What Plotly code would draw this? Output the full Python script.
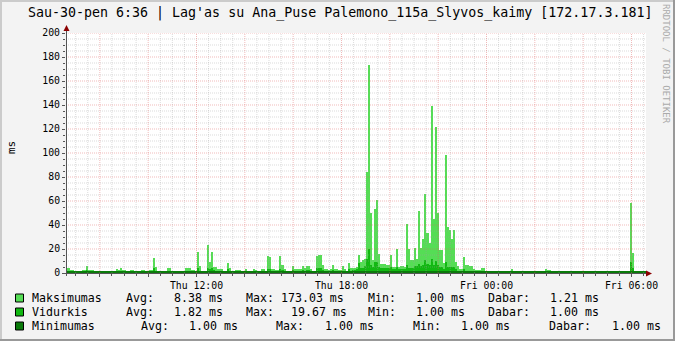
import pandas as pd
import plotly.graph_objects as go

# ---------------- data ----------------
TITLE = "Sau-30-pen 6:36 | Lag'as su Ana_Puse Palemono_115a_Slyvos_kaimy [172.17.3.181]"
START = "2015-01-29 06:36:00"   # Thu 06:36, 24 h window ending Fri 06:36
STEP_MIN = 5

# Maksimumas (ms), one row per hour (12 x 5 min)
MAX_MS = [
    4.4, 4.4, 2.5, 2.5, 2.0, 1.7, 1.7, 1.7, 2.5, 2.5, 5.8, 2.5,
    2.5, 2.5, 1.7, 1.7, 1.7, 1.5, 1.5, 1.5, 1.5, 1.5, 1.5, 1.5,
    1.5, 3.3, 2.5, 4.4, 2.5, 2.5, 1.7, 1.7, 2.5, 2.5, 1.7, 1.7,
    1.7, 2.5, 2.5, 1.5, 1.5, 2.5, 2.5, 12.5, 4.7, 2.0, 2.0, 1.5,
    1.5, 2.0, 3.9, 3.9, 1.7, 1.7, 1.5, 1.5, 1.7, 1.5, 1.7, 3.9,
    3.9, 3.9, 2.5, 2.5, 2.0, 17.5, 6.0, 1.5, 1.5, 1.5, 23.3, 9.0,
    17.5, 5.3, 5.3, 3.3, 3.3, 3.3, 2.0, 2.0, 8.3, 3.9, 1.7, 1.7,
    2.5, 2.5, 2.5, 2.0, 2.0, 3.3, 1.5, 1.5, 1.5, 3.3, 2.5, 1.5,
    1.5, 3.0, 3.0, 2.0, 14.2, 13.0, 3.5, 3.5, 2.5, 2.5, 14.4, 6.6,
    3.3, 2.0, 2.0, 2.0, 6.0, 3.5, 3.0, 3.0, 3.0, 6.0, 4.2, 5.8,
    5.8, 3.0, 1.7, 1.7, 14.0, 15.0, 14.7, 6.5, 3.0, 3.0, 2.5, 3.0,
    6.4, 3.0, 3.0, 2.5, 2.5, 5.5, 3.0, 1.5, 8.3, 4.2, 4.0, 4.5,
    5.0, 15.0, 9.5, 11.0, 12.0, 84.0, 173.03, 50.0, 11.0, 53.0, 61.0, 16.0,
    7.5, 7.5, 7.5, 7.0, 7.0, 15.0, 5.0, 5.0, 20.0, 5.0, 6.0, 6.0,
    5.0, 41.0, 20.0, 11.0, 11.0, 21.0, 12.0, 52.0, 21.0, 28.0, 66.0, 33.0,
    25.0, 139.0, 45.0, 122.0, 50.0, 19.0, 19.0, 8.0, 98.0, 38.0, 36.0, 28.0,
    36.0, 9.5, 6.0, 3.5, 3.5, 13.6, 7.0, 7.0, 5.5, 5.5, 3.5, 2.3,
    2.3, 2.3, 4.5, 4.0, 2.0, 2.0, 1.5, 1.2, 2.0, 1.2, 1.2, 2.0,
    1.2, 1.2, 2.0, 1.2, 1.2, 3.0, 2.0, 1.2, 1.2, 1.2, 2.0, 2.0,
    2.0, 2.0, 2.0, 1.2, 1.2, 2.0, 2.0, 1.2, 1.2, 1.2, 3.5, 2.5,
    2.5, 1.2, 1.2, 1.2, 1.2, 1.2, 1.2, 1.2, 2.0, 1.2, 1.2, 1.2,
    2.0, 2.0, 1.2, 1.2, 1.2, 2.0, 2.0, 2.0, 2.0, 1.2, 1.2, 2.0,
    2.0, 1.2, 2.0, 2.0, 1.2, 2.0, 2.0, 2.0, 1.2, 1.2, 1.2, 1.2,
    2.0, 2.0, 1.2, 1.2, 58.0, 17.0, 1.2, 1.2, 1.2, 2.0, 1.5, 1.2,
]

# Vidurkis (ms)
AVG_MS = [
    2.0, 2.0, 1.5, 1.4, 1.4, 1.3, 1.3, 1.3, 1.5, 1.5, 2.5, 1.4,
    1.4, 1.4, 1.3, 1.3, 1.3, 1.2, 1.2, 1.2, 1.2, 1.2, 1.2, 1.2,
    1.2, 1.6, 1.4, 2.0, 1.4, 1.4, 1.3, 1.3, 1.4, 1.4, 1.3, 1.3,
    1.3, 1.4, 1.4, 1.2, 1.2, 1.4, 1.4, 4.0, 2.0, 1.4, 1.4, 1.2,
    1.2, 1.4, 1.8, 1.8, 1.3, 1.3, 1.2, 1.2, 1.3, 1.2, 1.3, 1.8,
    1.8, 1.8, 1.4, 1.4, 1.4, 4.0, 2.0, 1.3, 1.3, 1.3, 4.0, 3.0,
    4.0, 2.5, 2.0, 1.6, 1.6, 1.6, 1.4, 1.4, 3.0, 1.8, 1.3, 1.3,
    1.4, 1.4, 1.4, 1.4, 1.4, 1.6, 1.2, 1.2, 1.2, 1.6, 1.4, 1.2,
    1.2, 1.5, 1.5, 1.4, 3.5, 3.0, 1.6, 1.6, 1.4, 1.4, 3.5, 2.5,
    1.6, 1.4, 1.4, 1.4, 2.5, 1.6, 1.5, 1.5, 1.5, 2.5, 2.0, 2.5,
    2.5, 1.5, 1.3, 1.3, 4.0, 4.0, 4.0, 2.5, 1.5, 1.5, 1.4, 1.5,
    2.5, 1.5, 1.5, 1.4, 1.4, 2.0, 1.5, 1.2, 3.0, 2.0, 2.5, 2.5,
    3.0, 8.0, 4.0, 4.5, 6.0, 12.0, 19.67, 7.0, 5.0, 9.0, 9.5, 5.0,
    4.0, 4.0, 4.0, 4.0, 4.0, 5.0, 3.0, 3.0, 5.0, 3.0, 3.0, 3.0,
    3.0, 7.0, 4.0, 4.0, 4.0, 6.0, 6.0, 7.5, 6.0, 7.0, 11.0, 7.5,
    7.0, 12.0, 7.0, 10.0, 7.0, 5.0, 5.0, 3.0, 9.0, 5.0, 5.0, 5.0,
    5.0, 3.0, 2.0, 2.0, 2.0, 3.0, 2.0, 2.0, 2.0, 2.0, 1.6, 1.3,
    1.3, 1.3, 1.8, 1.6, 1.3, 1.3, 1.2, 1.1, 1.3, 1.1, 1.1, 1.3,
    1.1, 1.1, 1.3, 1.1, 1.1, 1.5, 1.3, 1.1, 1.1, 1.1, 1.3, 1.3,
    1.3, 1.3, 1.3, 1.1, 1.1, 1.3, 1.3, 1.1, 1.1, 1.1, 1.6, 1.4,
    1.4, 1.1, 1.1, 1.1, 1.1, 1.1, 1.1, 1.1, 1.3, 1.1, 1.1, 1.1,
    1.3, 1.3, 1.1, 1.1, 1.1, 1.3, 1.3, 1.3, 1.3, 1.1, 1.1, 1.3,
    1.3, 1.1, 1.3, 1.3, 1.1, 1.3, 1.3, 1.3, 1.1, 1.1, 1.1, 1.1,
    1.3, 1.3, 1.1, 1.1, 9.0, 4.0, 1.1, 1.1, 1.1, 1.3, 1.2, 1.1,
]

# Minimumas (ms) - flat 1.00 ms across the day
MIN_MS = [
    1, 1, 1, 1, 1, 1, 1, 1, 1, 1, 1, 1,
    1, 1, 1, 1, 1, 1, 1, 1, 1, 1, 1, 1,
    1, 1, 1, 1, 1, 1, 1, 1, 1, 1, 1, 1,
    1, 1, 1, 1, 1, 1, 1, 1, 1, 1, 1, 1,
    1, 1, 1, 1, 1, 1, 1, 1, 1, 1, 1, 1,
    1, 1, 1, 1, 1, 1, 1, 1, 1, 1, 1, 1,
    1, 1, 1, 1, 1, 1, 1, 1, 1, 1, 1, 1,
    1, 1, 1, 1, 1, 1, 1, 1, 1, 1, 1, 1,
    1, 1, 1, 1, 1, 1, 1, 1, 1, 1, 1, 1,
    1, 1, 1, 1, 1, 1, 1, 1, 1, 1, 1, 1,
    1, 1, 1, 1, 1, 1, 1, 1, 1, 1, 1, 1,
    1, 1, 1, 1, 1, 1, 1, 1, 1, 1, 1, 1,
    1, 1, 1, 1, 1, 1, 1, 1, 1, 1, 1, 1,
    1, 1, 1, 1, 1, 1, 1, 1, 1, 1, 1, 1,
    1, 1, 1, 1, 1, 1, 1, 1, 1, 1, 1, 1,
    1, 1, 1, 1, 1, 1, 1, 1, 1, 1, 1, 1,
    1, 1, 1, 1, 1, 1, 1, 1, 1, 1, 1, 1,
    1, 1, 1, 1, 1, 1, 1, 1, 1, 1, 1, 1,
    1, 1, 1, 1, 1, 1, 1, 1, 1, 1, 1, 1,
    1, 1, 1, 1, 1, 1, 1, 1, 1, 1, 1, 1,
    1, 1, 1, 1, 1, 1, 1, 1, 1, 1, 1, 1,
    1, 1, 1, 1, 1, 1, 1, 1, 1, 1, 1, 1,
    1, 1, 1, 1, 1, 1, 1, 1, 1, 1, 1, 1,
    1, 1, 1, 1, 1, 1, 1, 1, 1, 1, 1, 1,
]

SERIES_NAMES = ["Maksimumas", "Vidurkis", "Minimumas"]
SERIES_COLORS = ["#55DD55", "#11B811", "#0A7A0A"]

# legend statistics (Avg, Max, Min, Dabar)
LEGEND_STATS = [
    ["8.38 ms", "173.03 ms", "1.00 ms", "1.21 ms"],
    ["1.82 ms", "19.67 ms", "1.00 ms", "1.00 ms"],
    ["1.00 ms", "1.00 ms", "1.00 ms", "1.00 ms"],
]

X_LABELS = {
    "2015-01-29 12:00": "Thu 12:00",
    "2015-01-29 18:00": "Thu 18:00",
    "2015-01-30 00:00": "Fri 00:00",
    "2015-01-30 06:00": "Fri 06:00",
}
Y_TICKS = [0, 20, 40, 60, 80, 100, 120, 140, 160, 180, 200]
Y_LABEL = "ms"
WATERMARK = "RRDTOOL / TOBI OETIKER"

# ---------------- layout constants ----------------
W, H = 675, 341
L, R, T, B = 66, 29, 33, 68
PW, PH = W - L - R, H - T - B
FONT = "DejaVu Sans Mono"
AXIS_C = "#555555"
ARROW_C = "#8B0000"
MGRID_C = "rgba(220,90,90,0.42)"
GRID_C = "rgba(160,160,160,0.38)"


def px(x):
    return (x - L) / PW


def py(y):
    return (H - B - y) / PH


t0 = pd.Timestamp(START)
n = len(MAX_MS)
step = pd.Timedelta(minutes=STEP_MIN)
centers = [t0 + step * (i + 0.5) for i in range(n)]
t1 = t0 + step * n

fig = go.Figure()
for name, vals, col in zip(SERIES_NAMES, [MAX_MS, AVG_MS, MIN_MS], SERIES_COLORS):
    fig.add_trace(go.Bar(
        x=centers, y=vals, name=name, width=STEP_MIN * 60 * 1000,
        marker=dict(color=col, line=dict(width=0)), showlegend=False,
        hoverinfo="skip",
    ))

# ticks
major_x = pd.date_range("2015-01-29 08:00", "2015-01-30 06:00", freq="2h")
minor_x = [t for t in pd.date_range("2015-01-29 07:00", "2015-01-30 06:30", freq="30min")
           if t not in set(major_x)]
tick_text = [X_LABELS.get(t.strftime("%Y-%m-%d %H:%M"), "") for t in major_x]
minor_y = [v for v in range(5, 200, 5) if v % 20 != 0]

shapes = []
# grid on top of data (rrdtool style)
for t in minor_x:
    shapes.append(dict(type="line", xref="x", yref="paper", x0=t, x1=t, y0=0, y1=1,
                       line=dict(color=GRID_C, width=1, dash="1px,1px"), layer="above"))
for v in minor_y:
    shapes.append(dict(type="line", xref="paper", yref="y", x0=0, x1=1, y0=v, y1=v,
                       line=dict(color=GRID_C, width=1, dash="1px,1px"), layer="above"))
for t in major_x:
    shapes.append(dict(type="line", xref="x", yref="paper", x0=t, x1=t, y0=0, y1=1,
                       line=dict(color=MGRID_C, width=1, dash="1px,1px"), layer="above"))
for v in Y_TICKS[1:]:
    shapes.append(dict(type="line", xref="paper", yref="y", x0=0, x1=1, y0=v, y1=v,
                       line=dict(color=MGRID_C, width=1, dash="1px,1px"), layer="above"))

# axes lines + arrows
shapes.append(dict(type="line", xref="paper", yref="paper", x0=px(66.5), x1=px(66.5),
                   y0=py(276), y1=py(30), line=dict(color=AXIS_C, width=1)))
shapes.append(dict(type="line", xref="paper", yref="paper", x0=px(62), x1=px(648),
                   y0=py(273.5), y1=py(273.5), line=dict(color=AXIS_C, width=1)))
shapes.append(dict(type="path", xref="paper", yref="paper",
                   path=f"M {px(63.5)} {py(31)} L {px(69.5)} {py(31)} L {px(66.5)} {py(25)} Z",
                   fillcolor=ARROW_C, line=dict(width=0)))
shapes.append(dict(type="path", xref="paper", yref="paper",
                   path=f"M {px(646)} {py(270.5)} L {px(646)} {py(276.5)} L {px(652)} {py(273.5)} Z",
                   fillcolor=ARROW_C, line=dict(width=0)))

# 3D frame
shapes.append(dict(type="rect", xref="paper", yref="paper", x0=px(0), x1=px(W), y0=py(0), y1=py(2),
                   fillcolor="#CBCBCB", line=dict(width=0)))
shapes.append(dict(type="rect", xref="paper", yref="paper", x0=px(0), x1=px(2), y0=py(0), y1=py(H),
                   fillcolor="#CBCBCB", line=dict(width=0)))
shapes.append(dict(type="rect", xref="paper", yref="paper", x0=px(0), x1=px(W), y0=py(H - 2), y1=py(H),
                   fillcolor="#999999", line=dict(width=0)))
shapes.append(dict(type="rect", xref="paper", yref="paper", x0=px(W - 2), x1=px(W), y0=py(0), y1=py(H),
                   fillcolor="#999999", line=dict(width=0)))

annotations = []
annotations.append(dict(text=TITLE, xref="paper", yref="paper", x=px(340), y=py(13),
                        xanchor="center", yanchor="middle", showarrow=False,
                        font=dict(family=FONT, size=13.3, color="#000")))
annotations.append(dict(text=Y_LABEL, xref="paper", yref="paper", x=px(11), y=py(148),
                        xanchor="center", yanchor="middle", showarrow=False, textangle=-90,
                        font=dict(family=FONT, size=11, color="#000")))
annotations.append(dict(text=WATERMARK, xref="paper", yref="paper", x=px(666), y=py(64),
                        xanchor="center", yanchor="middle", showarrow=False, textangle=90,
                        font=dict(family=FONT, size=9, color="#AAAAAA")))

# legend
row_y = [298, 312, 326]
label_x = [[123.9, 244.3, 365.6, 486.0], [123.9, 244.3, 365.6, 486.0], [138.5, 274.4, 410.8, 547.1]]
value_x = [[172.0, 278.7, 413.8, 548.4], [172.0, 289.0, 413.8, 548.4], [187.1, 323.4, 459.4, 609.9]]
stat_labels = ["Avg:", "Max:", "Min:", "Dabar:"]
LEG_FONT = dict(family=FONT, size=11.6, color="#000")
for r, (name, col) in enumerate(zip(SERIES_NAMES, SERIES_COLORS)):
    yy = row_y[r]
    shapes.append(dict(type="rect", xref="paper", yref="paper",
                       x0=px(15.5), x1=px(23.5), y0=py(yy - 4), y1=py(yy + 4),
                       fillcolor=col, line=dict(color="#000", width=1)))
    annotations.append(dict(text=name, xref="paper", yref="paper", x=px(30), y=py(yy),
                            xanchor="left", yanchor="middle", showarrow=False, font=LEG_FONT))
    for k in range(4):
        annotations.append(dict(text=stat_labels[k], xref="paper", yref="paper",
                                x=px(label_x[r][k]), y=py(yy), xanchor="left", yanchor="middle",
                                showarrow=False, font=LEG_FONT))
        annotations.append(dict(text=LEGEND_STATS[r][k], xref="paper", yref="paper",
                                x=px(value_x[r][k]), y=py(yy), xanchor="left", yanchor="middle",
                                showarrow=False, font=LEG_FONT))

fig.update_layout(
    width=W, height=H, margin=dict(l=L, r=R, t=T, b=B, pad=0),
    paper_bgcolor="#F3F3F3", plot_bgcolor="#FFFFFF",
    barmode="overlay", bargap=0, showlegend=False,
    shapes=shapes, annotations=annotations,
    xaxis=dict(type="date", range=[t0, t1], tickmode="array", tickvals=list(major_x),
               ticktext=tick_text, showgrid=False, zeroline=False, showline=False,
               ticks="outside", ticklen=3, tickcolor=AXIS_C, tickwidth=1,
               tickfont=dict(family=FONT, size=9.8, color="#000"),
               minor=dict(tickmode="array", tickvals=minor_x, ticks="outside", ticklen=2,
                          tickcolor=AXIS_C, showgrid=False),
               fixedrange=True),
    yaxis=dict(range=[0, 200], tickmode="array", tickvals=Y_TICKS,
               ticktext=[str(v) for v in Y_TICKS], showgrid=False, zeroline=False,
               showline=False, ticks="outside", ticklen=3, tickcolor=AXIS_C, tickwidth=1,
               tickfont=dict(family=FONT, size=9.8, color="#000"),
               minor=dict(tickmode="array", tickvals=minor_y, ticks="outside", ticklen=2,
                          tickcolor=AXIS_C, showgrid=False),
               fixedrange=True),
)

fig.write_html("out.html", config={"displayModeBar": False})
